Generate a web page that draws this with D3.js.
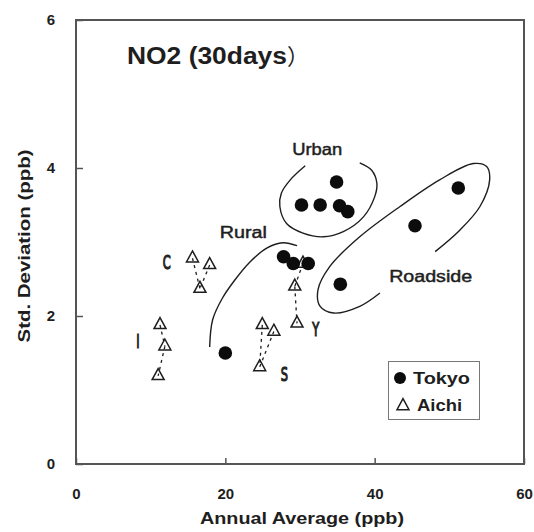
<!DOCTYPE html>
<html><head><meta charset="utf-8">
<script src="https://cdn.jsdelivr.net/npm/d3@7"></script>
<style>html,body{margin:0;padding:0;background:#fff;}</style>
</head><body>
<script>
// ---- data ----
const xTicks = [0, 20, 40, 60];
const yTicks = [0, 2, 4, 6];
const tokyoX = [30.2, 32.7, 34.9, 35.3, 36.4, 27.8, 29.1, 31.1, 20.0, 51.2, 45.4, 35.4];
const tokyoY = [3.50, 3.50, 3.81, 3.49, 3.41, 2.80, 2.71, 2.71, 1.50, 3.73, 3.22, 2.43];
const aichiGroup = ["C","C","C","I","I","I","S","S","S","Y","Y","Y"];
const aichiX = [15.6, 17.9, 16.6, 11.25, 11.9, 11.0, 24.95, 26.5, 24.6, 29.6, 29.3, 30.4];
const aichiY = [2.78, 2.69, 2.37, 1.88, 1.59, 1.19, 1.88, 1.79, 1.31, 1.90, 2.40, 2.71];
const aichiLinks = [[0,2],[1,2],[3,4],[4,5],[6,8],[7,8],[11,10],[10,9]];
const groupLabels = ["C", "I", "S", "Y"];
const groupLabelX = [12.15, 8.3, 27.9, 32.1];
const groupLabelY = [2.73, 1.66, 1.22, 1.82];
const regionNames = ["Urban", "Rural", "Roadside"];
const regionLabelX = [32.3, 22.4, 47.5];
const regionLabelY = [4.18, 3.05, 2.46];
const urbanCurve = [[30.7,4.03],[28.7,3.84],[27.5,3.66],[27.3,3.48],[28.2,3.25],[30.4,3.12],[33.1,3.07],[35.8,3.14],[38.5,3.34],[40.0,3.61],[40.3,3.79],[39.6,3.97],[38.0,4.07]];
const ruralCurve = [[17.9,1.58],[18.3,1.95],[19.6,2.24],[21.3,2.49],[23.3,2.73],[25.6,2.92],[27.7,2.99],[29.6,2.95]];
const roadsideCurve = [[40.7,2.31],[38.0,2.13],[34.5,2.04],[32.7,2.13],[32.4,2.35],[34.0,2.67],[38.0,3.07],[43.4,3.48],[48.7,3.84],[53.2,4.06],[55.0,4.02],[55.4,3.84],[54.1,3.48],[51.4,3.16],[48.1,2.87]];
const seriesNames = ["Tokyo", "Aichi"];
const titleText = "NO2 (30days";
const titleClose = "）";
const xTitle = "Annual Average (ppb)";
const yTitle = "Std. Deviation (ppb)";

// ---- layout ----
const W = 534, H = 532;
const L = 76, R = 524, T = 20, B = 464;
const ink = "#1e1e1e";
const font = "'Liberation Sans', Arial, Helvetica, sans-serif";

const svg = d3.select("body").append("svg").attr("width", W).attr("height", H)
  .style("font-family", font);
svg.append("rect").attr("width", W).attr("height", H).attr("fill", "#fff");

const x = d3.scaleLinear().domain([0, 60]).range([L, R]);
const y = d3.scaleLinear().domain([0, 6]).range([B, T]);

// axes
const gx = svg.append("g").attr("transform", `translate(0,${B})`)
  .call(d3.axisBottom(x).tickValues(xTicks).tickSize(-6).tickPadding(24).tickFormat(d3.format("d")));
const gy = svg.append("g").attr("transform", `translate(${L},0)`)
  .call(d3.axisLeft(y).tickValues(yTicks).tickSize(-7).tickPadding(21).tickFormat(d3.format("d")));
[gx, gy].forEach(g => {
  g.select(".domain").remove();
  g.selectAll(".tick line").attr("stroke", "#555").attr("stroke-width", 1.5);
  g.selectAll(".tick text").attr("fill", ink).style("font-size", "15px").style("font-weight", "bold")
    .style("font-family", font);
});
// frame
svg.append("rect").attr("x", L).attr("y", T).attr("width", R - L).attr("height", B - T)
  .attr("fill", "none").attr("stroke", "#555").attr("stroke-width", 2);

// axis titles
svg.append("text").attr("x", (L + R) / 2 + 2).attr("y", 524).attr("text-anchor", "middle")
  .attr("fill", ink).style("font-size", "16px").style("font-weight", "bold")
  .attr("textLength", 204).attr("lengthAdjust", "spacingAndGlyphs").text(xTitle);
svg.append("text").attr("transform", "translate(30,246) rotate(-90)").attr("text-anchor", "middle")
  .attr("fill", ink).style("font-size", "16px").style("font-weight", "bold")
  .attr("textLength", 193).attr("lengthAdjust", "spacingAndGlyphs").text(yTitle);

// title
const tt = svg.append("text").attr("x", 127).attr("y", 64).attr("fill", ink)
  .style("font-size", "23px").style("font-weight", "bold");
tt.append("tspan").attr("textLength", 160).attr("lengthAdjust", "spacingAndGlyphs").text(titleText);
tt.append("tspan").attr("x", 287).style("font-weight", "normal")
  .style("font-family", "'Noto Sans CJK JP', sans-serif").style("font-size", "22px").text(titleClose);

// region curves
const line = d3.line().x(d => x(d[0])).y(d => y(d[1])).curve(d3.curveCatmullRom.alpha(0.5));
[urbanCurve, ruralCurve, roadsideCurve].forEach(c => {
  svg.append("path").attr("d", line(c)).attr("fill", "none").attr("stroke", ink).attr("stroke-width", 1.4);
});
const regionWidths = [50, 47, 83];
regionNames.forEach((n, i) => {
  svg.append("text").attr("x", x(regionLabelX[i])).attr("y", y(regionLabelY[i])).attr("text-anchor", "middle")
    .attr("fill", ink).attr("stroke", ink).attr("stroke-width", 0.45)
    .style("font-size", "16px")
    .attr("textLength", regionWidths[i]).attr("lengthAdjust", "spacingAndGlyphs").text(n);
});

// dashed links
aichiLinks.forEach(([a, b]) => {
  svg.append("line").attr("x1", x(aichiX[a])).attr("y1", y(aichiY[a]))
    .attr("x2", x(aichiX[b])).attr("y2", y(aichiY[b]))
    .attr("stroke", ink).attr("stroke-width", 1.3).attr("stroke-dasharray", "3,4");
});

// triangles
const tri = (cx, cy, w, h) => `M${cx},${cy - h * 2 / 3}L${cx + w / 2},${cy + h / 3}L${cx - w / 2},${cy + h / 3}Z`;
aichiX.forEach((v, i) => {
  svg.append("path").attr("d", tri(x(v), y(aichiY[i]), 12, 11))
    .attr("fill", "none").attr("stroke", ink).attr("stroke-width", 1.5).attr("stroke-linejoin", "miter");
});
// circles
tokyoX.forEach((v, i) => {
  svg.append("circle").attr("cx", x(v)).attr("cy", y(tokyoY[i])).attr("r", 6.8).attr("fill", "#0c0c0c");
});

// group labels
groupLabels.forEach((g, i) => {
  const cx = x(groupLabelX[i]);
  svg.append("text").attr("x", cx).attr("y", y(groupLabelY[i])).attr("dy", "0.36em")
    .attr("text-anchor", "middle").attr("fill", "#222").attr("stroke", "#222").attr("stroke-width", 1.2)
    .style("font-family", "'DejaVu Sans', sans-serif")
    .style("font-size", "19px")
    .attr("transform", `translate(${cx},0) scale(0.6,1) translate(${-cx},0)`)
    .text(g);
});

// legend
const lg = svg.append("g");
lg.append("rect").attr("x", 388.5).attr("y", 361.5).attr("width", 91).attr("height", 58)
  .attr("fill", "#fff").attr("stroke", "#777").attr("stroke-width", 1);
lg.append("circle").attr("cx", 400).attr("cy", 378).attr("r", 6).attr("fill", "#0c0c0c");
lg.append("path").attr("d", tri(403, 406, 12, 11)).attr("fill", "none").attr("stroke", ink).attr("stroke-width", 1.5);
const lgW = [57, 45];
const lgX = [413, 417];
const lgY = [384, 411];
seriesNames.forEach((n, i) => {
  lg.append("text").attr("x", lgX[i]).attr("y", lgY[i]).attr("fill", ink)
    .style("font-size", "16px").style("font-weight", "bold")
    .attr("textLength", lgW[i]).attr("lengthAdjust", "spacingAndGlyphs").text(n);
});
</script>
</body></html>
